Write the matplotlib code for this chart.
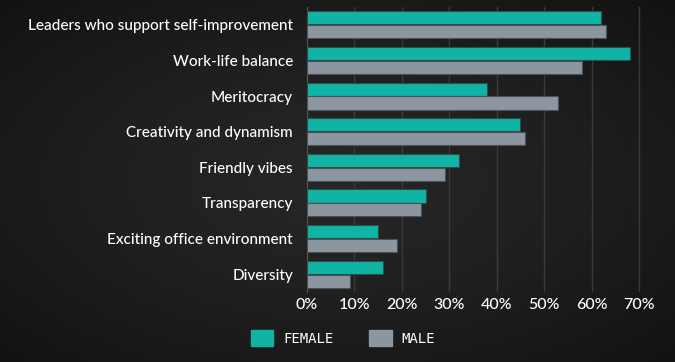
import numpy as np
import matplotlib.pyplot as plt
from matplotlib.colors import LinearSegmentedColormap
from matplotlib.patches import FancyBboxPatch

categories = ["Leaders who support self-improvement", "Work-life balance", "Meritocracy",
              "Creativity and dynamism", "Friendly vibes", "Transparency",
              "Exciting office environment", "Diversity"]
female = [62, 68, 38, 45, 32, 25, 15, 16]
male = [63, 58, 53, 46, 29, 24, 19, 9]
ticks = [0, 10, 20, 30, 40, 50, 60, 70]

teal = "#10b3a4"
grey = "#8b96a0"

fig = plt.figure(figsize=(6.75, 3.62), dpi=100)

# dark background with a soft vignette
bg = fig.add_axes([0, 0, 1, 1])
yy, xx = np.mgrid[-1:1:200j, -1:1:300j]
r = np.sqrt(xx**2 + yy**2)
vign = LinearSegmentedColormap.from_list("vign", ["#272727", "#1f1f1f", "#121212"])
bg.imshow(r, cmap=vign, vmin=0, vmax=1.414, aspect="auto", extent=[0, 1, 0, 1])
bg.axis("off")

ax = fig.add_axes([307 / 675, 1 - 292 / 362, (651 - 307) / 675, (292 - 7) / 362])
ax.patch.set_alpha(0)
y = np.arange(len(categories))
h = 0.37
ax.barh(y - h / 2 - 0.01, female, height=h, color=teal, edgecolor="#2b4f4b", linewidth=0.8, zorder=3)
ax.barh(y + h / 2 + 0.01, male, height=h, color=grey, edgecolor="#4a5258", linewidth=0.8, zorder=3)

ax.set_xlim(0, 70 * (651 - 307) / (639 - 307))
ax.set_ylim(7.5, -0.5)
ax.set_yticks(y)
ax.set_yticklabels(categories, color="white", fontsize=11, fontfamily="Lato", fontweight="medium")
ax.set_xticks(ticks)
ax.set_xticklabels([f"{t}%" for t in ticks], color="white", fontsize=11.5, fontfamily="Lato",
                   fontweight="medium")
ax.tick_params(length=0, axis="y", pad=10)
ax.tick_params(length=0, axis="x", pad=4)
ax.grid(axis="x", color="#3a3a3a", linewidth=1, zorder=0)
for s in ["top", "right", "bottom"]:
    ax.spines[s].set_visible(False)
ax.spines["left"].set_color("#555555")

# legend
handles = [FancyBboxPatch((0, 0), 1, 1, boxstyle="round,pad=0.1", color=teal),
           FancyBboxPatch((0, 0), 1, 1, boxstyle="round,pad=0.1", color=grey)]
leg = fig.legend(handles, ["FEMALE", "MALE"], loc="center", bbox_to_anchor=(0.508, 0.066),
                 ncol=2, frameon=False, handlelength=1.6, handleheight=1.4, columnspacing=2.6,
                 handletextpad=0.7, prop={"family": "DejaVu Sans Mono", "size": 10})
for t in leg.get_texts():
    t.set_color("white")

plt.savefig("out.png", dpi=100)
